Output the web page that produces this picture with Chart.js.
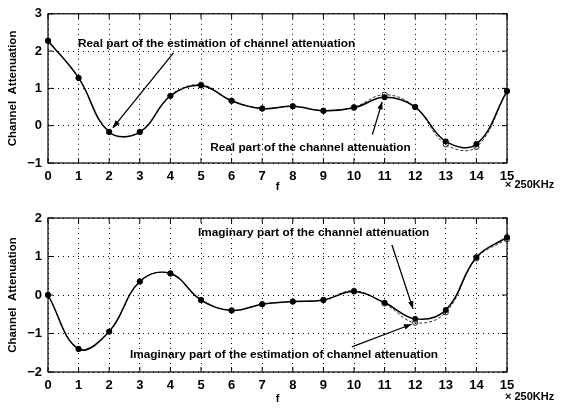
<!DOCTYPE html>
<html>
<head>
<meta charset="utf-8">
<script src="https://cdn.jsdelivr.net/npm/chart.js@4"></script>
<style>
  html, body { margin: 0; padding: 0; background: #fff; }
  #wrap { position: relative; width: 565px; height: 410px; }
  .box { position: absolute; left: 0; width: 565px; }
  #b1 { top: 0; height: 200px; }
  #b2 { top: 200px; height: 210px; }
</style>
</head>
<body>
<div id="wrap">
  <div class="box" id="b1"><canvas id="c1"></canvas></div>
  <div class="box" id="b2"><canvas id="c2"></canvas></div>
</div>
<script>
// ---- data ----
const freqs = [0,1,2,3,4,5,6,7,8,9,10,11,12,13,14,15];
const realActual = [2.28, 1.28, -0.17, -0.17, 0.80, 1.08, 0.67, 0.46, 0.52, 0.40, 0.48, 0.76, 0.50, -0.42, -0.49, 0.93];
const realEstimate = [2.28, 1.28, -0.17, -0.17, 0.80, 1.10, 0.67, 0.46, 0.52, 0.40, 0.50, 0.83, 0.50, -0.50, -0.57, 0.93];
const imagActual = [0.00, -1.40, -0.95, 0.35, 0.56, -0.13, -0.40, -0.24, -0.17, -0.13, 0.09, -0.20, -0.62, -0.39, 0.98, 1.50];
const imagEstimate = [0.00, -1.40, -0.95, 0.35, 0.56, -0.13, -0.40, -0.24, -0.17, -0.13, 0.11, -0.22, -0.72, -0.45, 0.95, 1.45];
const xTicks = [0,1,2,3,4,5,6,7,8,9,10,11,12,13,14,15];
const yTicksTop = [-1,0,1,2,3];
const yTicksBottom = [-2,-1,0,1,2];

const FONT = '"Liberation Sans", Arial, Helvetica, sans-serif';

function pts(ys){ return freqs.map((x,i)=>({x:x, y:ys[i]})); }

// frame, inward ticks, annotations
const framePlugin = {
  id: 'frame',
  afterDraw(chart, args, opts) {
    const ctx = chart.ctx, a = chart.chartArea;
    const xs = chart.scales.x, ys = chart.scales.y;
    ctx.save();
    ctx.strokeStyle = '#000';
    ctx.lineWidth = 1.2;
    ctx.strokeRect(a.left, a.top, a.right - a.left, a.bottom - a.top);
    ctx.lineWidth = 1;
    ctx.beginPath();
    xs.ticks.forEach(t => {
      const px = xs.getPixelForValue(t.value);
      ctx.moveTo(px, a.bottom); ctx.lineTo(px, a.bottom - 5);
      ctx.moveTo(px, a.top); ctx.lineTo(px, a.top + 5);
    });
    ys.ticks.forEach(t => {
      const py = ys.getPixelForValue(t.value);
      ctx.moveTo(a.left, py); ctx.lineTo(a.left + 5, py);
      ctx.moveTo(a.right, py); ctx.lineTo(a.right - 5, py);
    });
    ctx.stroke();

    // annotations
    (opts.notes || []).forEach(n => {
      ctx.font = 'bold 11.8px ' + FONT;
      ctx.fillStyle = '#000';
      ctx.textBaseline = 'middle';
      ctx.textAlign = 'left';
      ctx.fillText(n.text, xs.getPixelForValue(n.tx), ys.getPixelForValue(n.ty));
    });
    (opts.arrows || []).forEach(r => {
      const x0 = xs.getPixelForValue(r.from[0]), y0 = ys.getPixelForValue(r.from[1]);
      const x1 = xs.getPixelForValue(r.to[0]), y1 = ys.getPixelForValue(r.to[1]);
      ctx.strokeStyle = '#000'; ctx.lineWidth = 1.3;
      ctx.beginPath(); ctx.moveTo(x0, y0); ctx.lineTo(x1, y1); ctx.stroke();
      const ang = Math.atan2(y1 - y0, x1 - x0), L = 8, W = 0.35;
      ctx.beginPath();
      ctx.moveTo(x1, y1);
      ctx.lineTo(x1 - L*Math.cos(ang - W), y1 - L*Math.sin(ang - W));
      ctx.lineTo(x1 - L*Math.cos(ang + W), y1 - L*Math.sin(ang + W));
      ctx.closePath(); ctx.fillStyle = '#000'; ctx.fill();
    });

    // axis labels
    ctx.fillStyle = '#000';
    ctx.font = 'bold 11px ' + FONT;
    ctx.textAlign = 'center'; ctx.textBaseline = 'middle';
    ctx.fillText('f', (a.left + a.right)/2, a.bottom + opts.fY);
    ctx.textAlign = 'left';
    ctx.fillText('\u00d7 250KHz', a.right - 2, a.bottom + opts.unitY);
    ctx.save();
    ctx.translate(13, (a.top + a.bottom)/2);
    ctx.rotate(-Math.PI/2);
    ctx.textAlign = 'center';
    ctx.font = 'bold 11.5px ' + FONT;
    ctx.fillText('Channel  Attenuation', 0, 0);
    ctx.restore();
    ctx.restore();
  }
};

function makeChart(id, actual, estimate, yMin, yMax, yTicks, pad, xAxisH, notes, arrows, fY, unitY) {
  return new Chart(document.getElementById(id), {
    type: 'line',
    data: {
      datasets: [
        {
          label: 'actual',
          data: pts(actual),
          borderColor: '#000',
          borderWidth: 1.5,
          tension: 0.4,
          pointRadius: 2.2,
          pointBackgroundColor: '#000',
          pointBorderColor: '#000',
          clip: false
        },
        {
          label: 'estimate',
          data: pts(estimate),
          borderColor: '#333',
          borderWidth: 1,
          borderDash: [3, 2],
          tension: 0.4,
          pointRadius: 2.6,
          pointBackgroundColor: 'rgba(255,255,255,0)',
          pointBorderColor: '#222',
          pointBorderWidth: 1,
          clip: false
        }
      ]
    },
    options: {
      responsive: true,
      maintainAspectRatio: false,
      animation: false,
      devicePixelRatio: 1,
      layout: { padding: pad },
      plugins: {
        legend: { display: false },
        tooltip: { enabled: false },
        frame: { notes: notes, arrows: arrows, fY: fY, unitY: unitY }
      },
      scales: {
        x: {
          type: 'linear', min: 0, max: 15,
          afterBuildTicks: s => { s.ticks = xTicks.map(v => ({value: v})); },
          afterFit: s => { s.height = xAxisH; },
          grid: { color: '#000', lineWidth: 1, drawTicks: false },
          border: { display: false, dash: [1, 4] },
          ticks: { color: '#000', padding: 6, maxRotation: 0, autoSkip: false,
                   font: { family: FONT, size: 13, weight: 'bold' } }
        },
        y: {
          min: yMin, max: yMax,
          afterBuildTicks: s => { s.ticks = yTicks.map(v => ({value: v})); },
          afterFit: s => { s.width = 48; },
          grid: { color: '#000', lineWidth: 1, drawTicks: false },
          border: { display: false, dash: [1, 4] },
          ticks: { color: '#000', padding: 6,
                   callback: v => (v < 0 ? '\u2212' + Math.abs(v) : String(v)),
                   font: { family: FONT, size: 13, weight: 'bold' } }
        }
      }
    },
    plugins: [framePlugin]
  });
}

makeChart('c1', realActual, realEstimate, -1, 3, yTicksTop,
  { left: 0, right: 58, top: 9, bottom: 0 }, 37,
  [
    { text: 'Real part of the estimation of channel attenuation', tx: 0.98, ty: 2.2 },
    { text: 'Real part of the channel attenuation', tx: 5.3, ty: -0.58 }
  ],
  [
    { from: [4.1, 1.95], to: [2.12, -0.06] },
    { from: [10.6, -0.24], to: [10.92, 0.64] }
  ], 24, 22);

makeChart('c2', imagActual, imagEstimate, -2, 2, yTicksBottom,
  { left: 0, right: 58, top: 18, bottom: 0 }, 38,
  [
    { text: 'Imaginary part of the channel attenuation', tx: 4.9, ty: 1.61 },
    { text: 'Imaginary part of the estimation of channel attenuation', tx: 2.68, ty: -1.56 }
  ],
  [
    { from: [11.24, 1.3], to: [11.93, -0.36] },
    { from: [9.93, -1.35], to: [11.88, -0.76] }
  ], 27, 25);
</script>
</body>
</html>
